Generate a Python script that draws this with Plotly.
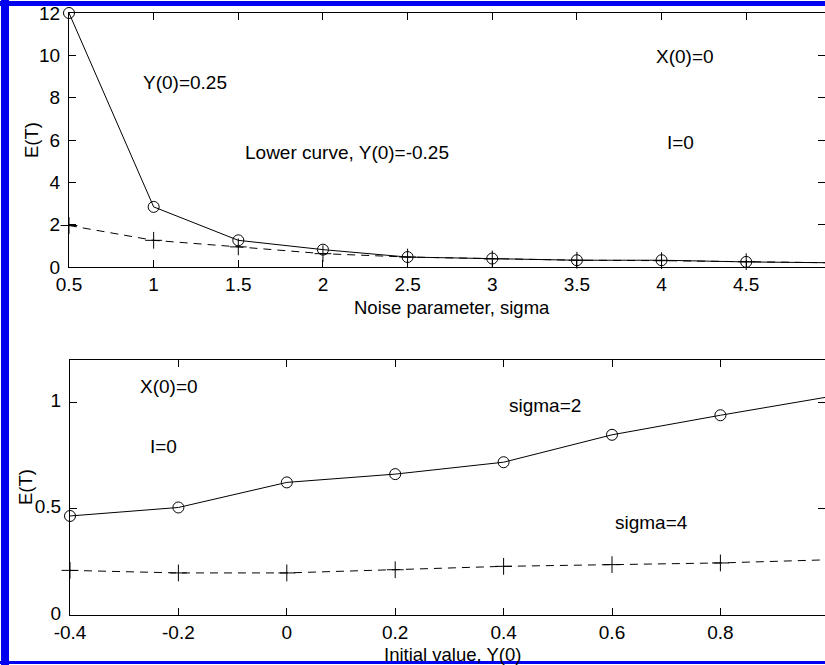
import plotly.graph_objects as go

# Top panel: expected time E(T) versus the noise parameter sigma
sigma = [0.5, 1.0, 1.5, 2.0, 2.5, 3.0, 3.5, 4.0, 4.5, 5.0]
et_upper = [12.0, 2.84, 1.26, 0.82, 0.47, 0.40, 0.32, 0.32, 0.24, 0.20]   # Y(0)=0.25
et_lower = [1.96, 1.26, 0.95, 0.63, 0.47, 0.38, 0.32, 0.30, 0.25, 0.20]   # Y(0)=-0.25

# Bottom panel: expected time E(T) versus the initial value Y(0)
y0 = [-0.4, -0.2, 0.0, 0.2, 0.4, 0.6, 0.8, 1.0]
et_sigma2 = [0.466, 0.506, 0.624, 0.663, 0.719, 0.848, 0.940, 1.027]
et_sigma4 = [0.210, 0.198, 0.198, 0.213, 0.229, 0.237, 0.245, 0.260]

top_xticks = [0.5, 1, 1.5, 2, 2.5, 3, 3.5, 4, 4.5]
top_yticks = [0, 2, 4, 6, 8, 10, 12]
bot_xticks = [-0.4, -0.2, 0, 0.2, 0.4, 0.6, 0.8]
bot_yticks = [0, 0.5, 1]

FONT = "Liberation Sans, Arial, sans-serif"
FS = 19
FS_TITLE = 18.5
W, H = 825, 665

fig = go.Figure()

solid = dict(color="black", width=1)
dashed = dict(color="black", width=1, dash="8px,6px")
circ = dict(symbol="circle-open", size=11, color="black", line=dict(width=1, color="black"))
plus = dict(symbol="cross-thin-open", size=12, color="black", line=dict(width=1, color="black"))

series = [
    (sigma, et_upper, solid, circ, "x", "y"),
    (sigma, et_lower, dashed, plus, "x", "y"),
    (y0, et_sigma2, solid, circ, "x2", "y2"),
    (y0, et_sigma4, dashed, plus, "x2", "y2"),
]
for xs, ys, ln, mk, xa, ya in series:
    fig.add_trace(go.Scatter(x=xs, y=ys, mode="lines+markers", line=ln, marker=mk,
                             xaxis=xa, yaxis=ya, cliponaxis=False, showlegend=False))

axis_common = dict(showline=True, linecolor="black", linewidth=1, mirror="ticks",
                   ticks="inside", ticklen=7, tickwidth=1, tickcolor="black",
                   showgrid=False, zeroline=False, automargin=False,
                   tickfont=dict(family=FONT, size=FS, color="black"))
xaxis_common = dict(axis_common, ticklabelstandoff=0)
yaxis_common = dict(axis_common, ticklabelstandoff=4)

# pixel layout of the two panels
top_l, top_t, top_b = 69, 13, 267
bot_l, bot_t, bot_b = 70, 360, 615
top_unit = 169.3       # px per sigma unit
bot_unit = 542.0       # px per Y(0) unit

fig.update_layout(
    width=W, height=H,
    margin=dict(l=0, r=0, t=0, b=0, autoexpand=False),
    paper_bgcolor="white", plot_bgcolor="white",
    font=dict(family=FONT, size=FS, color="black"),
    xaxis=dict(xaxis_common, domain=[top_l / W, 1.0],
               range=[0.5, 0.5 + (W - top_l) / top_unit],
               tickvals=top_xticks, ticktext=[f"{v:g}" for v in top_xticks], anchor="y"),
    yaxis=dict(yaxis_common, domain=[1 - top_b / H, 1 - top_t / H], range=[0, 12],
               tickvals=top_yticks, anchor="x"),
    xaxis2=dict(xaxis_common, domain=[bot_l / W, 1.0],
                range=[-0.4, -0.4 + (W - bot_l) / bot_unit],
                tickvals=bot_xticks, ticktext=[f"{v:g}" for v in bot_xticks], anchor="y2"),
    yaxis2=dict(yaxis_common, domain=[1 - bot_b / H, 1 - bot_t / H], range=[0, 1.2],
                tickvals=bot_yticks, ticktext=["0", "0.5", "1"], anchor="x2",
                ticklabelshift=-2),
)

# axis titles, placed in figure pixels
titles = [
    ("Noise parameter, sigma", 452, 307, 0),
    ("E(T)", 31, 140, -90),
    ("Initial value, Y(0)", 452, 654, 0),
    ("E(T)", 25, 487, -90),
]
for text, px, py, ang in titles:
    fig.add_annotation(text=text, x=px / W, y=1 - py / H, xref="paper", yref="paper",
                       xanchor="center", yanchor="middle",
                       showarrow=False, textangle=ang, borderpad=0,
                       font=dict(family=FONT, size=FS_TITLE, color="black"))

notes = [
    ("Y(0)=0.25", 1.185, 8.7, "x", "y"),
    ("Lower curve, Y(0)=-0.25", 2.14, 5.43, "x", "y"),
    ("X(0)=0", 4.14, 9.94, "x", "y"),
    ("I=0", 4.11, 5.86, "x", "y"),
    ("X(0)=0", -0.217, 1.074, "x2", "y2"),
    ("I=0", -0.227, 0.795, "x2", "y2"),
    ("sigma=2", 0.476, 0.988, "x2", "y2"),
    ("sigma=4", 0.672, 0.433, "x2", "y2"),
]
for text, ax, ay, xr, yr in notes:
    fig.add_annotation(text=text, x=ax, y=ay, xref=xr, yref=yr, showarrow=False,
                       xanchor="center", yanchor="middle",
                       font=dict(family=FONT, size=FS, color="black"))

# blue frame around the figure
frame = "#0000f0"
fig.add_shape(type="rect", xref="paper", yref="paper", x0=1 / W, x1=9 / W, y0=0, y1=1,
              fillcolor=frame, line_width=0, layer="above")
fig.add_shape(type="rect", xref="paper", yref="paper", x0=0, x1=1, y0=1 - 6 / H, y1=1 - 1 / H,
              fillcolor=frame, line_width=0, layer="above")
fig.add_shape(type="rect", xref="paper", yref="paper", x0=0, x1=1, y0=1 - 664 / H, y1=1 - 661 / H,
              fillcolor=frame, line_width=0, layer="above")

fig.write_html("out.html")
